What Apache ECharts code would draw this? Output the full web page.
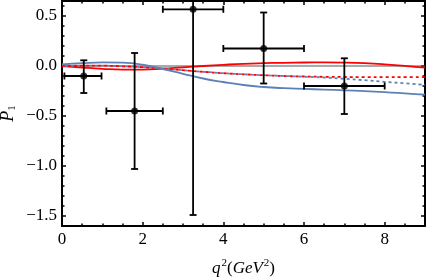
<!DOCTYPE html>
<html><head><meta charset="utf-8">
<script src="https://cdn.jsdelivr.net/npm/echarts@6/dist/echarts.min.js"></script>
<style>html,body{margin:0;padding:0;background:#fff}#c{width:427px;height:279px}</style>
</head><body><div id="c"></div>
<script>
// ---- data ----
var curveX      = [0,0.5,1,1.5,2,2.5,3,3.5,4,4.5,5,5.5,6,6.5,7,7.5,8,8.5,9];
var blueSolid   = [0.015,0.028,0.036,0.033,0.013,-0.03,-0.078,-0.125,-0.16,-0.19,-0.21,-0.222,-0.229,-0.236,-0.243,-0.252,-0.262,-0.273,-0.287];
var redSolid    = [0,-0.015,-0.028,-0.036,-0.036,-0.027,-0.013,0,0.012,0.022,0.028,0.032,0.035,0.036,0.034,0.028,0.017,0.002,-0.017];
var blueDashed  = [0,0.003,0.003,-0.003,-0.012,-0.025,-0.042,-0.058,-0.072,-0.083,-0.092,-0.1,-0.107,-0.115,-0.128,-0.142,-0.158,-0.173,-0.188];
var redDashed   = [0,0.003,0.003,-0.003,-0.012,-0.025,-0.042,-0.058,-0.072,-0.083,-0.092,-0.1,-0.105,-0.108,-0.11,-0.111,-0.111,-0.111,-0.11];
var ptX   = [0.54, 1.8, 3.25, 5.0, 7.0];
var ptY   = [-0.10, -0.45, 0.567, 0.175, -0.20];
var ptXlo = [0.06, 1.1, 2.5, 4.0, 6.0];
var ptXhi = [0.98, 2.5, 4.0, 6.0, 8.0];
var ptYlo = [-0.27, -1.03, -1.49, -0.175, -0.48];
var ptYhi = [0.057, 0.13, 1.2, 0.535, 0.077];
var xMajor = [0,2,4,6,8];
var xMinor = [0.5,1,1.5,2.5,3,3.5,4.5,5,5.5,6.5,7,7.5,8.5];
var yMajor = [-1.5,-1,-0.5,0,0.5];
var yMinor = [-1.6,-1.4,-1.3,-1.2,-1.1,-0.9,-0.8,-0.7,-0.6,-0.4,-0.3,-0.2,-0.1,0.1,0.2,0.3,0.4,0.6];

var FONT = '"Liberation Serif", "DejaVu Serif", serif';
function pairs(xs, ys){ return xs.map(function(x,i){return [x, ys[i]];}); }
var blue = '#5E81B5', red = '#FF0000';

function xAx(pos, major, show){
  return {
    type:'value', min:0, max:9, position:pos,
    axisLine:{show:show, onZero:false, lineStyle:{color:'#000', width:2}},
    axisTick:{show:true, inside:true, length: major ? 4 : 2.5, customValues: major ? xMajor : xMinor, lineStyle:{color:'#000', width:1.5}},
    axisLabel:{show: pos==='bottom' && major, customValues:xMajor, margin:5, color:'#000', fontFamily:FONT, fontSize:17},
    splitLine:{show:false}
  };
}
function yAx(pos, major, show){
  return {
    type:'value', min:-1.6, max:0.65, position:pos,
    axisLine:{show:show, onZero:false, lineStyle:{color:'#000', width:2}},
    axisTick:{show:true, inside:true, length: major ? 4 : 2.5, customValues: major ? yMajor : yMinor, lineStyle:{color:'#000', width:1.5}},
    axisLabel:{show: pos==='left' && major, customValues:yMajor, margin:5, color:'#000', fontFamily:FONT, fontSize:17,
      formatter:function(v){ return v.toFixed(1).replace('-', '\u2212'); }},
    splitLine:{show:false}
  };
}
var xAxes = [xAx('bottom',true,true), xAx('bottom',false,false), xAx('top',true,true), xAx('top',false,false)];
xAxes[0].name = '{i|q}{sup|2}{n|(}{i|GeV}{sup|2}{n|)}';
xAxes[0].nameLocation = 'middle';
xAxes[0].nameGap = 32;
xAxes[0].nameTextStyle = {fontFamily:FONT, fontSize:17, color:'#000', rich:{
  i:{fontFamily:FONT, fontSize:17, fontStyle:'italic', color:'#000'},
  n:{fontFamily:FONT, fontSize:17, color:'#000'},
  sup:{fontFamily:FONT, fontSize:11, color:'#000', padding:[0,0,10,1]}
}};
var yAxes = [yAx('left',true,true), yAx('left',false,false), yAx('right',true,true), yAx('right',false,false)];
yAxes[0].name = '{i|P}{sub|1}';
yAxes[0].nameLocation = 'middle';
yAxes[0].nameGap = 44;
yAxes[0].nameMoveOverlap = false;
yAxes[0].nameTextStyle = {fontFamily:FONT, fontSize:17, color:'#000', rich:{
  i:{fontFamily:FONT, fontSize:18, fontStyle:'italic', color:'#000'},
  sub:{fontFamily:FONT, fontSize:11, color:'#000', padding:[8,0,0,0]}
}};

var errData = ptX.map(function(x,i){ return [x, ptY[i], ptXlo[i], ptXhi[i], ptYlo[i], ptYhi[i]]; });

function renderErr(params, api){
  var x = api.value(0), y = api.value(1);
  var p  = api.coord([x, y]);
  var xl = api.coord([api.value(2), y]);
  var xh = api.coord([api.value(3), y]);
  var yl = api.coord([x, api.value(4)]);
  var yh = api.coord([x, api.value(5)]);
  var c = 3.5;
  var st = {stroke:'#000', lineWidth:1.8};
  var segs = [
    [xl[0], p[1], xh[0], p[1]],
    [p[0], yl[1], p[0], yh[1]],
    [xl[0], p[1]-c, xl[0], p[1]+c],
    [xh[0], p[1]-c, xh[0], p[1]+c],
    [p[0]-c, yl[1], p[0]+c, yl[1]],
    [p[0]-c, yh[1], p[0]+c, yh[1]]
  ];
  return {type:'group', children: segs.map(function(s){
    return {type:'line', shape:{x1:s[0],y1:s[1],x2:s[2],y2:s[3]}, style:st};
  })};
}

var chart = echarts.init(document.getElementById('c'), null, {renderer:'canvas'});
chart.setOption({
  animation:false,
  backgroundColor:'#fff',
  grid:{left:62, right:2, top:1, bottom:53, containLabel:false, outerBoundsMode:'none'},
  xAxis: xAxes,
  yAxis: yAxes,
  series:[
    {type:'line', data:[[0,0],[9,0]], symbol:'none', lineStyle:{color:'#555', width:1}, z:1},
    {type:'line', data:pairs(curveX, redSolid), smooth:true, symbol:'none', lineStyle:{color:red, width:1.8}, z:2},
    {type:'line', data:pairs(curveX, redDashed), smooth:true, symbol:'none', lineStyle:{color:red, width:1.8, type:[3,3]}, z:2},
    {type:'line', data:pairs(curveX, blueDashed), smooth:true, symbol:'none', lineStyle:{color:blue, width:1.8, type:[3,3], dashOffset:3}, z:3},
    {type:'line', data:pairs(curveX, blueSolid), smooth:true, symbol:'none', lineStyle:{color:blue, width:1.8}, z:3},
    {type:'custom', data:errData, renderItem:renderErr, clip:true, z:5},
    {type:'scatter', data:pairs(ptX, ptY), symbol:'circle', symbolSize:7, itemStyle:{color:'#000'}, z:6}
  ]
});
</script></body></html>
